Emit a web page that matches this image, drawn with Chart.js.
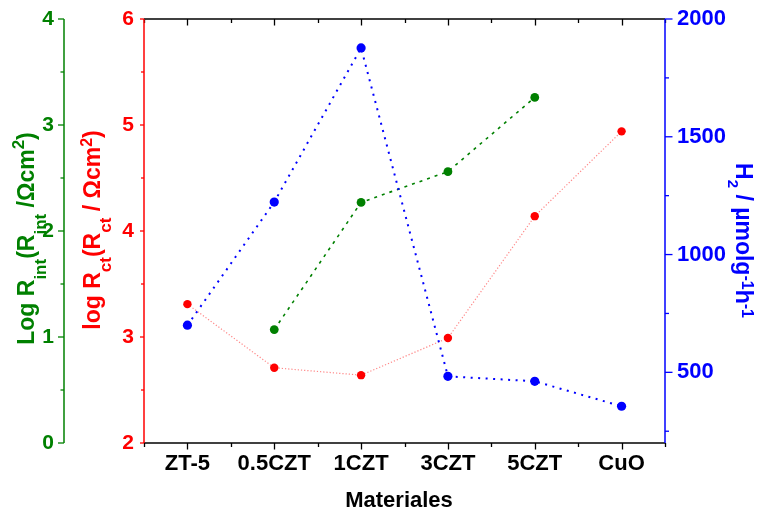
<!DOCTYPE html>
<html><head><meta charset="utf-8">
<script src="https://cdn.jsdelivr.net/npm/chart.js@4.4.0/dist/chart.umd.min.js"></script>
<style>html,body{margin:0;padding:0;background:#fff;}canvas{display:block;}</style>
</head><body>
<canvas id="c" width="757" height="512"></canvas>
<script>
const categories = ['ZT-5', '0.5CZT', '1CZT', '3CZT', '5CZT', 'CuO'];
const logRct = [3.31, 2.71, 2.64, 2.99, 4.14, 4.94];
const logRint = [null, 1.07, 2.27, 2.56, 3.26, null];
const h2Rate = [700, 1223, 1877, 483, 462, 356];
const rintTicks = [0, 1, 2, 3, 4];
const rintMinor = [0.5, 1.5, 2.5, 3.5];
const rctTicks = [2, 3, 4, 5, 6];
const rctMinor = [2.5, 3.5, 4.5, 5.5];
const h2Ticks = [500, 1000, 1500, 2000];
const h2Minor = [250, 750, 1250, 1750];

const FONT = "'Liberation Sans', Arial, Helvetica, sans-serif";
const GREEN = '#008000', RED = '#ff0000', BLUE = '#0000ff';

function drawRich(ctx, segs, x, y, angle, color) {
  ctx.save();
  ctx.translate(x, y);
  ctx.rotate(angle);
  ctx.fillStyle = color;
  ctx.textBaseline = 'alphabetic';
  ctx.textAlign = 'left';
  let total = 0;
  segs.forEach(s => { ctx.font = 'bold ' + s.s + 'px ' + FONT; s.w = ctx.measureText(s.t).width; total += s.w; });
  let cx = -total / 2;
  segs.forEach(s => { ctx.font = 'bold ' + s.s + 'px ' + FONT; ctx.fillText(s.t, cx, s.dy || 0); cx += s.w; });
  ctx.restore();
}

const axesPlugin = {
  id: 'axesPlugin',
  afterDraw(chart) {
    const {ctx, chartArea: a, scales} = chart;
    ctx.save();
    ctx.lineCap = 'butt';
    const line = (x1, y1, x2, y2, c, w) => { ctx.strokeStyle = c; ctx.lineWidth = w; ctx.beginPath(); ctx.moveTo(x1, y1); ctx.lineTo(x2, y2); ctx.stroke(); };
    line(a.left, a.bottom, a.right, a.bottom, '#000', 1.6);
    line(a.left, a.top, a.right, a.top, '#000', 1.6);
    const xs = scales.x;
    for (let i = -0.5; i <= categories.length - 0.5; i += 0.5) {
      const px = Math.round(xs.getPixelForValue(i)) + 0.5;
      const len = Number.isInteger(i) ? 6.5 : 4;
      line(px, a.bottom, px, a.bottom + len, '#000', 1.3);
      line(px, a.top, px, a.top + len, '#000', 1.3);
    }
    const yr = scales.yRct;
    line(a.left, a.top, a.left, a.bottom, RED, 1.5);
    rctTicks.forEach(v => { const p = yr.getPixelForValue(v); line(a.left - 4, p, a.left, p, RED, 1.3); });
    rctMinor.forEach(v => { const p = yr.getPixelForValue(v); line(a.left - 3, p, a.left, p, RED, 1.3); });
    const yg = scales.yRint;
    const gx = yg.right;
    line(gx, a.top, gx, a.bottom, GREEN, 1.5);
    rintTicks.forEach(v => { const p = yg.getPixelForValue(v); line(gx - 6, p, gx, p, GREEN, 1.3); });
    rintMinor.forEach(v => { const p = yg.getPixelForValue(v); line(gx - 3.5, p, gx, p, GREEN, 1.3); });
    const yb = scales.yH2;
    line(a.right, a.top, a.right, a.bottom, BLUE, 1.5);
    h2Ticks.forEach(v => { const p = yb.getPixelForValue(v); line(a.right, p, a.right + 7.5, p, BLUE, 1.3); });
    h2Minor.forEach(v => { const p = yb.getPixelForValue(v); line(a.right, p, a.right + 4, p, BLUE, 1.3); });
    ctx.restore();

    drawRich(ctx, [
      {t: 'Log R', s: 23}, {t: 'int', s: 17, dy: 12}, {t: '(R', s: 23}, {t: 'int', s: 17, dy: 12},
      {t: ' /\u03A9cm', s: 23}, {t: '2', s: 17, dy: -10}, {t: ')', s: 23}
    ], 34.3, 238.5, -Math.PI / 2, GREEN);
    drawRich(ctx, [
      {t: 'log R', s: 23}, {t: 'ct', s: 17, dy: 11}, {t: '(R', s: 23}, {t: 'ct', s: 17, dy: 11},
      {t: ' / \u03A9cm', s: 23}, {t: '2', s: 16, dy: -8.5}, {t: ')', s: 23}
    ], 100, 230, -Math.PI / 2, RED);
    drawRich(ctx, [
      {t: 'H', s: 23}, {t: '2', s: 15, dy: 8}, {t: ' / \u00B5molg', s: 23}, {t: '-1', s: 16, dy: -6},
      {t: 'h', s: 23}, {t: '-1', s: 16, dy: -6}
    ], 736, 240.5, Math.PI / 2, BLUE);
    drawRich(ctx, [{t: 'Materiales', s: 22}], 399, 507, 0, '#000');
  }
};

const setTicks = arr => s => { s.ticks = arr.map(v => ({value: v})); };
const fitY = w => s => { s.width = w; s.paddingTop = 0; s.paddingBottom = 0; };

new Chart(document.getElementById('c'), {
  type: 'line',
  data: {
    labels: categories,
    datasets: [
      {data: h2Rate, yAxisID: 'yH2', borderColor: BLUE, borderWidth: 2, borderDash: [2, 5.5],
       pointBackgroundColor: BLUE, pointBorderWidth: 0, pointRadius: 4.6, fill: false, tension: 0, order: 1},
      {data: logRint, yAxisID: 'yRint', borderColor: GREEN, borderWidth: 1.6, borderDash: [3, 5],
       pointBackgroundColor: GREEN, pointBorderWidth: 0, pointRadius: 4.4, fill: false, tension: 0, order: 2},
      {data: logRct, yAxisID: 'yRct', borderColor: 'rgba(255,70,70,0.65)', borderWidth: 1.2, borderDash: [1.2, 2],
       pointBackgroundColor: RED, pointBorderWidth: 0, pointRadius: 4.2, fill: false, tension: 0, order: 3}
    ]
  },
  options: {
    responsive: false, animation: false, devicePixelRatio: 1,
    layout: {padding: {top: 19, left: 0, right: 0, bottom: 0}},
    plugins: {legend: {display: false}, tooltip: {enabled: false}},
    scales: {
      x: {
        type: 'category', offset: true,
        grid: {display: false, drawTicks: false}, border: {display: false},
        ticks: {color: '#000', font: {family: FONT, size: 22, weight: 'bold'}, padding: 8, maxRotation: 0, autoSkip: false},
        afterFit: s => { s.height = 69; s.paddingLeft = 0; s.paddingRight = 0; }
      },
      yRint: {
        type: 'linear', position: 'left', weight: 2, min: 0, max: 4,
        grid: {display: false, drawTicks: false}, border: {display: false},
        ticks: {color: GREEN, font: {family: FONT, size: 21, weight: 'bold'}, padding: 10, callback: v => String(v)},
        afterBuildTicks: setTicks(rintTicks),
        afterFit: fitY(64)
      },
      yRct: {
        type: 'linear', position: 'left', weight: 1, min: 2, max: 6,
        grid: {display: false, drawTicks: false}, border: {display: false},
        ticks: {color: RED, font: {family: FONT, size: 21, weight: 'bold'}, padding: 10, callback: v => String(v)},
        afterBuildTicks: setTicks(rctTicks),
        afterFit: fitY(80)
      },
      yH2: {
        type: 'linear', position: 'right', min: 200, max: 2000,
        grid: {display: false, drawTicks: false}, border: {display: false},
        ticks: {color: BLUE, font: {family: FONT, size: 22, weight: 'bold'}, padding: 12, callback: v => String(v)},
        afterBuildTicks: setTicks(h2Ticks),
        afterFit: fitY(92)
      }
    }
  },
  plugins: [axesPlugin]
});
</script>
</body></html>
